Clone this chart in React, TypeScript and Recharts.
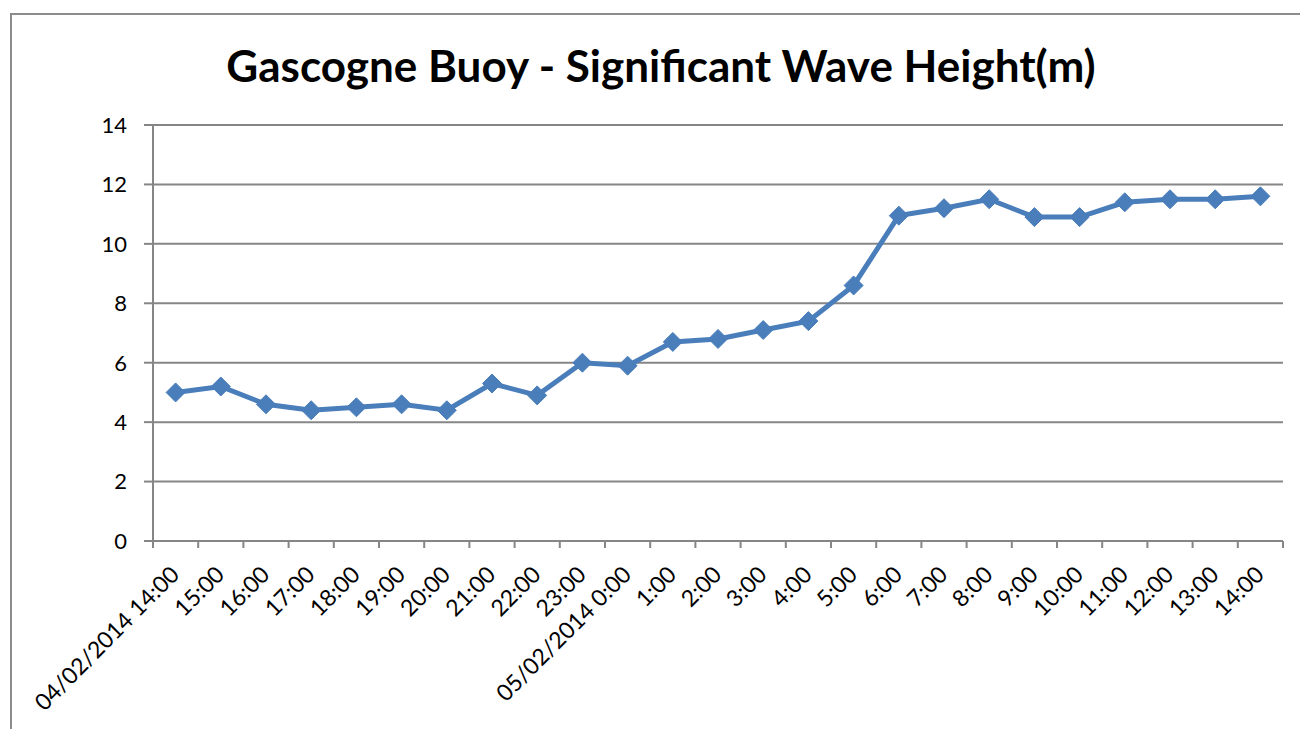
import React from 'react'
import { LineChart, Line, XAxis, YAxis, CartesianGrid } from 'recharts'

const times = [
  '04/02/2014 14:00', '15:00', '16:00', '17:00', '18:00', '19:00', '20:00', '21:00', '22:00', '23:00',
  '05/02/2014 0:00', '1:00', '2:00', '3:00', '4:00', '5:00', '6:00', '7:00', '8:00', '9:00',
  '10:00', '11:00', '12:00', '13:00', '14:00',
]
const waveHeight = [
  5.0, 5.2, 4.6, 4.4, 4.5, 4.6, 4.4, 5.3, 4.9, 6.0,
  5.9, 6.7, 6.8, 7.1, 7.4, 8.6, 10.95, 11.2, 11.5, 10.9,
  10.9, 11.4, 11.5, 11.5, 11.6,
]
const yTicks = [0, 2, 4, 6, 8, 10, 12, 14]

const data = times.map((t, i) => ({ time: t, height: waveHeight[i] }))

const FONT = 'Lato, "Open Sans", sans-serif'
const GRID = '#868686'
const BLUE = '#4a7ebb'

// plot area edges (px)
const LEFT = 153
const RIGHT = 1283
const BAND = (RIGHT - LEFT) / times.length

const Diamond = (props: any) => {
  const { cx, cy } = props
  if (cx == null || cy == null) return null
  const r = 9.5
  return (
    <polygon
      points={`${cx},${cy - r} ${cx + r},${cy} ${cx},${cy + r} ${cx - r},${cy}`}
      fill={BLUE}
      stroke={BLUE}
      strokeWidth={1}
    />
  )
}

const XTick = (props: any) => {
  const { x, y, payload, index } = props
  const isLast = index === times.length - 1
  const tx = x + 5
  const ty = y + 27
  return (
    <g>
      <line x1={x - BAND / 2} x2={x - BAND / 2} y1={y - 8} y2={y - 1} stroke={GRID} strokeWidth={2} />
      {isLast && (
        <line x1={x + BAND / 2} x2={x + BAND / 2} y1={y - 8} y2={y - 1} stroke={GRID} strokeWidth={2} />
      )}
      <text
        x={tx}
        y={ty}
        textAnchor="end"
        transform={`rotate(-45, ${tx}, ${ty})`}
        fontFamily={FONT}
        fontSize={23}
        fill="#000"
      >
        {payload.value}
      </text>
    </g>
  )
}

export default function App() {
  return (
    <div style={{ position: 'absolute', left: 0, top: 0, width: 1300, height: 729, background: '#fff', overflow: 'hidden' }}>
      <div
        style={{
          position: 'absolute', left: 10, top: 13, width: 1400, height: 800,
          border: '2px solid #8c8c8c', boxSizing: 'border-box',
        }}
      />
      <div
        style={{
          position: 'absolute', left: 0, top: 37, width: 1322, textAlign: 'center',
          fontFamily: FONT, fontWeight: 'bold', fontSize: 44, color: '#000', lineHeight: '56px',
        }}
      >
        Gascogne Buoy - Significant Wave Height(m)
      </div>
      <div style={{ position: 'absolute', left: 0, top: 0 }}>
        <LineChart
          width={1300}
          height={729}
          data={data}
          margin={{ top: 125, right: 1300 - RIGHT, bottom: 28, left: LEFT - 70 }}
        >
          <CartesianGrid vertical={false} stroke={GRID} strokeWidth={2} />
          <XAxis
            dataKey="time"
            interval={0}
            height={160}
            padding={{ left: BAND / 2, right: BAND / 2 }}
            axisLine={{ stroke: GRID, strokeWidth: 2 }}
            tickLine={false}
            tick={<XTick />}
          />
          <YAxis
            width={70}
            domain={[0, 14]}
            ticks={yTicks}
            interval={0}
            axisLine={{ stroke: GRID, strokeWidth: 2 }}
            tickLine={{ stroke: GRID, strokeWidth: 2 }}
            tickSize={9}
            tickMargin={17}
            tick={{ fontFamily: FONT, fontSize: 22, fill: '#000' }}
          />
          <Line
            type="linear"
            dataKey="height"
            stroke={BLUE}
            strokeWidth={5}
            dot={<Diamond />}
            isAnimationActive={false}
          />
        </LineChart>
      </div>
    </div>
  )
}
